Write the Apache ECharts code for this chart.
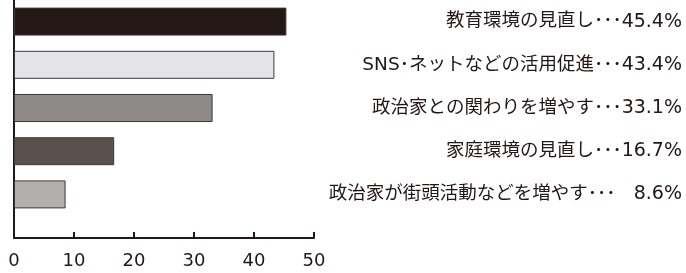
<!DOCTYPE html>
<html><head><meta charset="utf-8">
<script src="https://cdn.jsdelivr.net/npm/echarts@6/dist/echarts.min.js"></script>
<style>html,body{margin:0;padding:0;background:#fff}#c{width:686px;height:273px}</style>
</head><body><div id="c"></div>
<script>
var categories = ['教育環境の見直し', 'SNS･ネットなどの活用促進', '政治家との関わりを増やす', '家庭環境の見直し', '政治家が街頭活動などを増やす'];
var values = [45.4, 43.4, 33.1, 16.7, 8.6];
var barColors = ['#231815', '#e4e3e5', '#8e8a87', '#5a514f', '#b2afac'];
var xTicks = [0, 10, 20, 30, 40, 50];

var ink = '#231815';
var cjk = '"DejaVu Sans", "Noto Sans CJK JP", sans-serif';
var latin = '"DejaVu Sans", "Noto Sans CJK JP", sans-serif';
var chart = echarts.init(document.getElementById('c'), null, {renderer: 'canvas'});
chart.setOption({
  animation: false,
  backgroundColor: '#fff',
  grid: [
    {left: 14, width: 300, top: -4, height: 220},
    {left: 14, width: 300, top: 216, height: 22}
  ],
  xAxis: [
    {gridIndex: 0, type: 'value', min: 0, max: 50, interval: 10, show: false},
    {gridIndex: 1, type: 'value', min: xTicks[0], max: xTicks[xTicks.length - 1], interval: 10,
     axisLine: {show: true, lineStyle: {color: ink, width: 2}},
     axisTick: {show: true, inside: true, length: 6, lineStyle: {color: ink, width: 2}},
     axisLabel: {color: ink, fontSize: 18, fontFamily: latin, margin: 14},
     splitLine: {show: false}}
  ],
  yAxis: [
    {gridIndex: 0, type: 'category', data: categories, inverse: true,
     axisLine: {show: true, lineStyle: {color: ink, width: 2}},
     axisTick: {show: false}, axisLabel: {show: false}},
    {gridIndex: 0, type: 'category', data: categories, inverse: true, position: 'right',
     axisLine: {show: false}, axisTick: {show: false},
     axisLabel: {show: true, align: 'right', margin: 368, color: ink,
       rich: {
         n: {fontSize: 18.5, fontFamily: cjk, color: ink},
         v: {fontSize: 19, fontFamily: latin, color: ink}
       },
       formatter: function (v, i) {
         var val = values[i];
         return '{n|' + v + '･･･}{v|' + (val < 10 ? '\u2007 ' : '') + val.toFixed(1) + '%}';
       }}},
    {gridIndex: 1, type: 'category', data: [''],
     axisLine: {show: true, lineStyle: {color: ink, width: 2}},
     axisTick: {show: false}, axisLabel: {show: false}}
  ],
  series: [{
    type: 'bar', xAxisIndex: 0, yAxisIndex: 0, barWidth: 28,
    data: values.map(function (v, i) {
      return {value: v, itemStyle: {color: barColors[i], borderColor: '#3e3a39', borderWidth: 1}};
    })
  }]
});
</script></body></html>
